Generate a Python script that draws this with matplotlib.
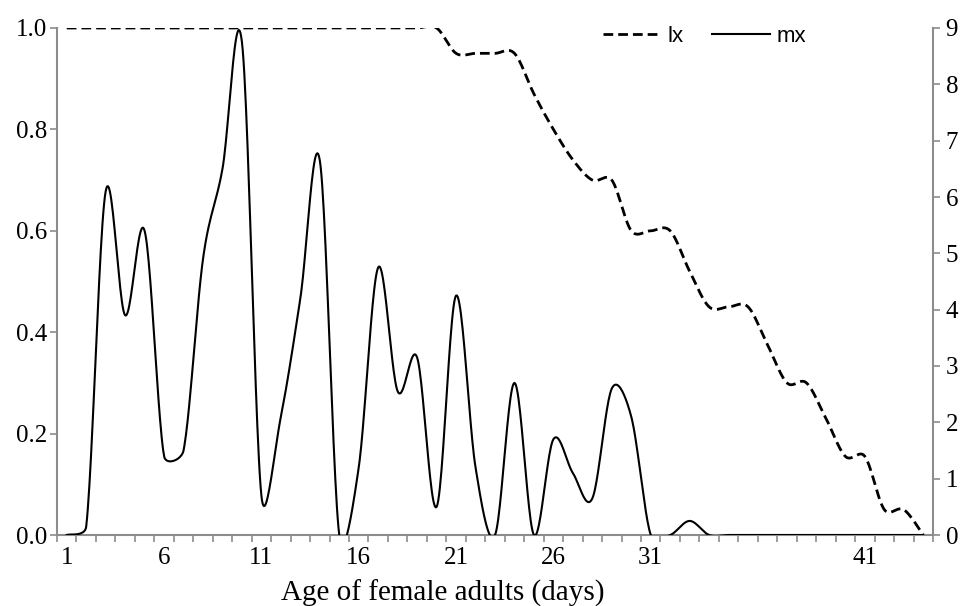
import numpy as np
import matplotlib
matplotlib.use("Agg")
import matplotlib.pyplot as plt
from matplotlib.lines import Line2D

plt.rcParams['font.family'] = ['Liberation Serif']

# days of female adult life
days = list(range(1, 46))

# survival (lx), left axis
lx = [1.0, 1.0, 1.0, 1.0, 1.0, 1.0, 1.0, 1.0, 1.0, 1.0,
      1.0, 1.0, 1.0, 1.0, 1.0, 1.0, 1.0, 1.0, 1.0, 1.0,
      0.95, 0.95, 0.95, 0.95, 0.87, 0.80, 0.74, 0.70, 0.70, 0.60,
      0.60, 0.60, 0.52, 0.45, 0.45, 0.45, 0.375, 0.30, 0.30, 0.23,
      0.155, 0.155, 0.05, 0.05, 0.0]

# fecundity (mx), right axis
mx = [0.0, 0.15, 6.1, 3.9, 5.4, 1.4, 1.5, 4.9, 6.5, 8.75,
      0.7, 2.1, 4.2, 6.65, 0.0, 1.2, 4.75, 2.55, 3.15, 0.5,
      4.25, 1.2, 0.0, 2.7, 0.0, 1.7, 1.1, 0.65, 2.6, 2.1,
      0.0, 0.0, 0.25, 0.0, 0.0, 0.0, 0.0, 0.0, 0.0, 0.0,
      0.0, 0.0, 0.0, 0.0, 0.0]

tick_pos = [1, 6, 11, 16, 21, 26, 31, 42]
tick_labels = ['1', '6', '11', '16', '21', '26', '31', '41']


def smooth(x, y, xscale, yscale, n=24):
    # bezier "smoothed line": arms are 1/6 of the neighbour chord,
    # but never longer than half of the segment they sit on
    p = np.column_stack([np.asarray(x, float) * xscale,
                         np.asarray(y, float) * yscale])
    m = len(p)
    arm_in = np.zeros_like(p)
    arm_out = np.zeros_like(p)
    for i in range(m):
        pa = p[max(i - 1, 0)]
        pb = p[min(i + 1, m - 1)]
        tv = pb - pa
        tl = np.hypot(*tv)
        if tl == 0:
            continue
        d_prev = np.hypot(*(p[i] - pa))
        d_next = np.hypot(*(pb - p[i]))
        arm_in[i] = tv * min(1 / 6, d_prev / (2 * tl))
        arm_out[i] = tv * min(1 / 6, d_next / (2 * tl))
    t = np.linspace(0, 1, n, endpoint=False)[:, None]
    out = []
    for i in range(m - 1):
        p1, p2 = p[i], p[i + 1]
        c1 = p1 + arm_out[i]
        c2 = p2 - arm_in[i + 1]
        b = ((1 - t) ** 3) * p1 + 3 * ((1 - t) ** 2) * t * c1 \
            + 3 * (1 - t) * t ** 2 * c2 + t ** 3 * p2
        out.append(b)
    out.append(p[-1:])
    out = np.vstack(out)
    return out[:, 0] / xscale, out[:, 1] / yscale


grey = '#8c8c8c'
day_px = 876 / 45

fig = plt.figure(figsize=(9.66, 6.06), dpi=100)
ax = fig.add_axes([57 / 966, 1 - 535 / 606, 876 / 966, 507 / 606])
ax2 = ax.twinx()

sx, sy = smooth(days, lx, day_px, 507)
ax.plot(sx, sy, color='black', lw=2.0, linestyle=(0, (3.5, 1.8)))
mxx, mxy = smooth(days, mx, day_px, 507 / 9)
ax2.plot(mxx, mxy, color='black', lw=1.5)

ax.set_xlim(0.5, 45.5)
ax.set_ylim(0, 1.0)
ax2.set_ylim(0, 9)

ax.set_yticks(np.arange(0, 1.01, 0.2))
ax.set_yticklabels(['%.1f' % v for v in np.arange(0, 1.01, 0.2)])
ax2.set_yticks(range(0, 10))

ax.set_xticks(np.arange(0.5, 46, 1.0))
ax.set_xticklabels([])
ax.set_xticks(tick_pos, labels=tick_labels, minor=True)

for a in (ax, ax2):
    for s in a.spines.values():
        s.set_color(grey)
        s.set_linewidth(1.5)
    a.spines['top'].set_visible(False)
ax.spines['right'].set_visible(False)
ax2.spines['left'].set_visible(False)
ax2.spines['bottom'].set_visible(False)

ax.tick_params(axis='x', which='major', length=5, width=1.2, color=grey)
ax.tick_params(axis='x', which='minor', length=0, pad=9, labelsize=18)
ax.tick_params(axis='y', length=5, width=1.2, color=grey, pad=2, labelsize=18)
ax2.tick_params(axis='y', length=5, width=1.2, color=grey, pad=4, labelsize=18)

ax.set_xlabel('Age of female adults (days)', fontsize=21)
ax.xaxis.set_label_coords(0.44, -0.088)

handles = [Line2D([], [], color='black', lw=2.0, linestyle=(0, (3.5, 1.8))),
           Line2D([], [], color='black', lw=1.5)]
fig.legend(handles, ['lx', 'mx'], loc='center left',
           bbox_to_anchor=(603 / 966, 1 - 36 / 606), ncol=2, frameon=False,
           borderpad=0, borderaxespad=0, handlelength=2.6, handletextpad=0.3,
           columnspacing=1.3, prop={'family': 'Liberation Sans', 'size': 16})

fig.savefig('out.png', dpi=100)
